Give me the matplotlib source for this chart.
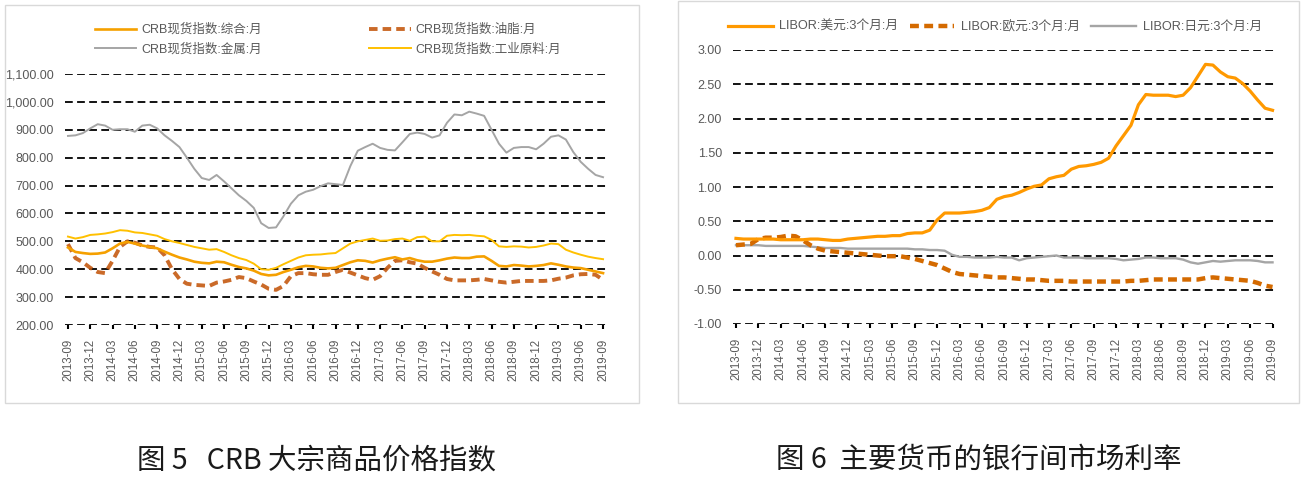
import matplotlib
matplotlib.use("Agg")
import matplotlib.pyplot as plt
from matplotlib.patches import Rectangle
import numpy as np

plt.rcParams["font.family"] = ["Liberation Sans", "Noto Sans CJK SC", "DejaVu Sans"]

# 2013-09 ... 2019-09, monthly (73 points)
quarter_labels = [
    "2013-09", "2013-12", "2014-03", "2014-06", "2014-09", "2014-12",
    "2015-03", "2015-06", "2015-09", "2015-12", "2016-03", "2016-06",
    "2016-09", "2016-12", "2017-03", "2017-06", "2017-09", "2017-12",
    "2018-03", "2018-06", "2018-09", "2018-12", "2019-03", "2019-06",
    "2019-09",
]

# 图5 CRB 现货指数
crb_composite = [
    478, 462, 458, 455, 456, 460, 475, 492, 498, 492, 485, 480, 475, 463, 452, 442,
    435, 427, 423, 421, 427, 425, 416, 408, 403, 395, 383, 378, 380, 390, 398, 407,
    412, 410, 405, 403, 405, 415, 425, 432, 430, 424, 432, 438, 443, 435, 440, 432,
    427, 427, 432, 438, 442, 440, 440, 445, 446, 430, 412, 410, 415, 413, 410, 412,
    415, 421, 416, 410, 406, 404, 398, 392, 386,
]
crb_fats = [
    490, 440, 425, 405, 390, 386, 430, 480, 500, 495, 485, 480, 478, 450, 400, 365,
    348, 344, 342, 340, 352, 356, 362, 372, 368, 356, 345, 330, 326, 340, 375, 386,
    386, 382, 380, 380, 390, 398, 388, 378, 368, 362, 375, 405, 430, 432, 425, 420,
    405, 392, 380, 365, 360, 360, 360, 362, 365, 360, 355, 352, 355, 358, 358, 358,
    358, 360, 366, 370, 378, 382, 383, 380, 362,
]
crb_metals = [
    878, 880, 888, 905, 920, 915, 900, 902, 902, 893, 915, 918, 905, 880, 860, 838,
    800, 760, 727, 720, 738, 715, 690, 665, 645, 620, 565, 548, 550, 590, 635, 665,
    678, 685, 698, 708, 705, 702, 770, 825, 838, 850, 835, 828, 826, 855, 885, 890,
    885, 872, 880, 925, 955, 952, 965, 958, 950, 900, 850, 818, 835, 838, 838, 830,
    850, 875, 880, 865, 820, 785, 760, 738, 730,
]
crb_industrial = [
    517, 510, 515, 523, 525, 528, 533, 540, 538, 532, 530, 525, 520, 508, 500, 494,
    487, 480, 475, 470, 472, 462, 450, 440, 433, 420, 400, 398, 405, 418, 430, 442,
    450, 452, 453, 456, 458, 475, 492, 500, 505, 510, 502, 503, 508, 510, 502, 515,
    517, 500, 500, 520, 523, 522, 523, 520, 518, 505, 482, 480, 482, 481, 478, 480,
    485, 492, 490, 470, 460, 452, 445, 440, 436,
]

# 图6 LIBOR 3个月
libor_usd = [
    0.25, 0.24, 0.24, 0.24, 0.24, 0.24, 0.23, 0.23, 0.23, 0.23, 0.24, 0.24, 0.23,
    0.22, 0.22, 0.24, 0.25, 0.26, 0.27, 0.28, 0.28, 0.29, 0.29, 0.32, 0.33, 0.33,
    0.37, 0.52, 0.62, 0.62, 0.62, 0.63, 0.64, 0.66, 0.70, 0.82, 0.86, 0.88, 0.92,
    0.97, 1.01, 1.03, 1.12, 1.15, 1.17, 1.26, 1.30, 1.31, 1.33, 1.36, 1.42, 1.60,
    1.75, 1.90, 2.20, 2.35, 2.34, 2.34, 2.34, 2.32, 2.34, 2.45, 2.62, 2.79, 2.78,
    2.68, 2.61, 2.59, 2.51, 2.40, 2.27, 2.15, 2.12,
]
libor_eur = [
    0.15, 0.16, 0.17, 0.24, 0.26, 0.26, 0.27, 0.29, 0.28, 0.22, 0.15, 0.10, 0.07,
    0.06, 0.05, 0.04, 0.03, 0.02, 0.01, 0.00, -0.01, -0.01, -0.01, -0.03, -0.05,
    -0.08, -0.11, -0.14, -0.19, -0.24, -0.27, -0.28, -0.29, -0.30, -0.31, -0.32,
    -0.32, -0.33, -0.34, -0.35, -0.35, -0.36, -0.37, -0.37, -0.37, -0.38, -0.38,
    -0.38, -0.38, -0.38, -0.38, -0.38, -0.38, -0.37, -0.37, -0.36, -0.35, -0.35,
    -0.35, -0.35, -0.35, -0.35, -0.35, -0.33, -0.32, -0.33, -0.34, -0.35, -0.36,
    -0.37, -0.40, -0.44, -0.46,
]
libor_jpy = [
    0.15, 0.15, 0.15, 0.15, 0.14, 0.14, 0.14, 0.14, 0.14, 0.14, 0.13, 0.12, 0.11,
    0.11, 0.11, 0.10, 0.10, 0.10, 0.10, 0.10, 0.10, 0.10, 0.10, 0.10, 0.09, 0.09,
    0.08, 0.08, 0.07, 0.01, -0.02, -0.02, -0.03, -0.03, -0.03, -0.02, -0.03, -0.03,
    -0.07, -0.04, -0.03, -0.02, -0.01, 0.00, -0.03, -0.03, -0.03, -0.04, -0.04,
    -0.04, -0.04, -0.05, -0.07, -0.06, -0.05, -0.03, -0.03, -0.04, -0.04, -0.04,
    -0.06, -0.10, -0.12, -0.10, -0.08, -0.09, -0.08, -0.07, -0.07, -0.07, -0.08,
    -0.10, -0.10,
]

crb_yticks = [200, 300, 400, 500, 600, 700, 800, 900, 1000, 1100]
libor_yticks = [-1.0, -0.5, 0.0, 0.5, 1.0, 1.5, 2.0, 2.5, 3.0]

W, H = 1307, 487
TXT = "#595959"
GRID_LS = (0, (4.3, 2.4))

fig = plt.figure(figsize=(W / 100, H / 100), dpi=100)

# panel frames
for x0, y0, x1, y1 in [(5, 5, 639, 403), (678, 1, 1299, 403)]:
    fig.patches.append(Rectangle((x0 / W, 1 - y1 / H), (x1 - x0) / W, (y1 - y0) / H,
                                 transform=fig.transFigure, fill=False,
                                 edgecolor="#D9D9D9", lw=1.0))


def px_axes(x0, y0, x1, y1):
    return fig.add_axes([x0 / W, 1 - y1 / H, (x1 - x0) / W, (y1 - y0) / H])


def style_axes(ax, yticks, fmt, xlim):
    x = np.arange(len(crb_composite))
    ax.set_xlim(*xlim)
    ax.set_ylim(yticks[0], yticks[-1])
    for v in yticks:
        ax.axhline(v, color="black", lw=1.3, ls=GRID_LS, zorder=1)
    for s in ax.spines.values():
        s.set_visible(False)
    ax.set_yticks(yticks)
    ax.set_yticklabels([fmt(v) for v in yticks])
    ax.set_xticks(x[::3])
    ax.set_xticklabels(quarter_labels, rotation=90)
    ax.tick_params(axis="y", length=0, pad=8, labelsize=9, labelcolor=TXT)
    ax.tick_params(axis="x", length=3, width=1.5, color="black", pad=7,
                   labelsize=8.3, labelcolor=TXT)
    ax.set_facecolor("none")
    return x


# ---- 图5 ----
ax1 = px_axes(65, 74, 606, 325)
x = style_axes(ax1, crb_yticks, lambda v: f"{v:,.2f}", (-0.4, 72.4))
l_metal, = ax1.plot(x, crb_metals, color="#A5A5A5", lw=1.4, zorder=3)
l_ind, = ax1.plot(x, crb_industrial, color="#FFC000", lw=1.4, zorder=3)
l_fat, = ax1.plot(x, crb_fats, color="#C55A11", lw=2.8, ls=(0, (2.2, 1.3)), zorder=3,
                  alpha=0.9)
l_comp, = ax1.plot(x, crb_composite, color="#F5A000", lw=1.9, zorder=4)

fig.legend([l_comp, l_metal, l_fat, l_ind],
           ["CRB现货指数:综合:月", "CRB现货指数:金属:月",
            "CRB现货指数:油脂:月", "CRB现货指数:工业原料:月"],
           ncol=2, loc="center left", bbox_to_anchor=(95 / W, 1 - 39.5 / H),
           frameon=False, fontsize=9, labelcolor=TXT, handlelength=3.3,
           handletextpad=0.4, columnspacing=8.6, labelspacing=0.55,
           borderpad=0, borderaxespad=0)

# ---- 图6 ----
ax2 = px_axes(733, 50, 1277, 324)
x = style_axes(ax2, libor_yticks, lambda v: f"{v:.2f}", (-0.4, 72.6))
l_jpy, = ax2.plot(x, libor_jpy, color="#A5A5A5", lw=1.7, zorder=3)
l_eur, = ax2.plot(x, libor_eur, color="#D46A00", lw=3.2, ls=(0, (2.0, 1.2)), zorder=3)
l_usd, = ax2.plot(x, libor_usd, color="#FF9900", lw=2.3, zorder=4)

fig.legend([l_usd, l_eur, l_jpy],
           ["LIBOR:美元:3个月:月", "LIBOR:欧元:3个月:月", "LIBOR:日元:3个月:月"],
           ncol=3, loc="center left", bbox_to_anchor=(728 / W, 1 - 27 / H),
           frameon=False, fontsize=9.2, labelcolor=TXT, handlelength=3.5,
           handletextpad=0.5, columnspacing=0.9, borderpad=0, borderaxespad=0)

# captions
cap_font = ["Noto Sans CJK SC", "DejaVu Sans"]
fig.text(137 / W, 1 - 460 / H, "图 5   CRB 大宗商品价格指数", family=cap_font,
         fontsize=20.5, fontweight="light", va="center", ha="left", color="#1a1a1a")
fig.text(776 / W, 1 - 460 / H, "图 6  主要货币的银行间市场利率", family=cap_font,
         fontsize=20.5, fontweight="light", va="center", ha="left", color="#1a1a1a")

fig.savefig("out.png", dpi=100)
